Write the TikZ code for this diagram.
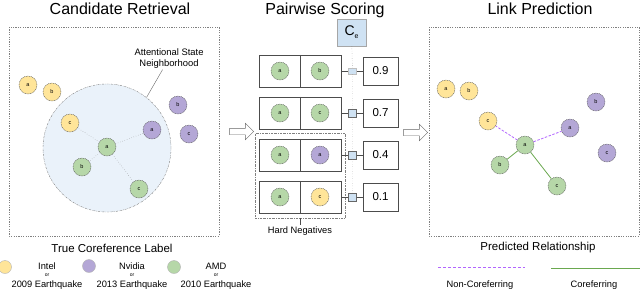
\documentclass[tikz,border=0pt]{standalone}
\usepackage{fontspec}
\setmainfont{Liberation Sans}
\usepackage{tikz}
\usetikzlibrary{arrows.meta, positioning, shapes}
\usepackage{xcolor}
\definecolor{yel}{RGB}{255,229,153}
\definecolor{pur}{RGB}{180,167,214}
\definecolor{grn}{RGB}{182,215,168}
\definecolor{nbhdblue}{RGB}{234,242,250}
\definecolor{ceblue}{RGB}{207,226,243}
\definecolor{noncoref}{RGB}{178,102,255}
\definecolor{coref}{RGB}{106,168,79}

\begin{document}
\begin{tikzpicture}[x=1pt, y=-1pt,
  ment/.style={circle, draw=gray!70!black, dash pattern=on 1pt off 0.7pt, minimum size=18pt, inner sep=0pt, font=\fontsize{5.5}{6}\selectfont},
  keydot/.style={circle, draw=gray!60, minimum size=13pt, inner sep=0pt},
  panel/.style={draw=gray, dash pattern=on 1.2pt off 1.2pt},
  pairbox/.style={draw=black!70, minimum width=82pt, minimum height=32pt},
  scorebox/.style={draw=black!70, minimum width=35pt, minimum height=28pt, font=\fontsize{11.5}{12}\selectfont},
  gate/.style={draw=black!60, fill=ceblue, minimum size=8pt, inner sep=0pt},
  blockarrow/.style={single arrow, draw=black!60, fill=white, minimum height=24pt, minimum width=16pt, inner sep=3pt, single arrow head extend=5pt},
  title/.style={anchor=base, font=\fontsize{16}{18}\selectfont},
  caption/.style={font=\fontsize{11.5}{13}\selectfont},
  keytext/.style={font=\fontsize{9.3}{10}\selectfont, inner sep=1pt}
]
  \useasboundingbox (0,0) rectangle (640,290);

  % Titles
  \node[title] (t1) at (120,14) {Candidate Retrieval};
  \node[title] (t2) at (325,14) {Pairwise Scoring};
  \node[title] (t3) at (540,14) {Link Prediction};

  % Candidate retrieval
  \draw[panel] (9,27) rectangle (219,236);
  \node[circle, draw=gray, dash pattern=on 2pt off 1pt on 0.5pt off 1pt, fill=nbhdblue, minimum size=128pt, inner sep=0pt] (nbhd) at (107,148) {};
  \node[font=\fontsize{9.4}{11}\selectfont, align=center, inner sep=1pt] (attn) at (169,58.5) {Attentional State\\Neighborhood};
  \draw[gray!80!black] (attn) -- (nbhd.52);

  \node[ment, fill=yel] (cya) at (28,85) {a};
  \node[ment, fill=yel] (cyb) at (52,92) {b};
  \node[ment, fill=yel] (cyc) at (70,123) {c};
  \node[ment, fill=pur] (cpa) at (152,130) {a};
  \node[ment, fill=pur] (cpb) at (178,105) {b};
  \node[ment, fill=pur] (cpc) at (189,134) {c};
  \node[ment, fill=grn] (cga) at (107,147) {a};
  \node[ment, fill=grn] (cgb) at (82,167) {b};
  \node[ment, fill=grn] (cgc) at (139,189) {c};

  \draw[gray, dotted] (cga) -- (cyc);
  \draw[gray, dotted] (cga) -- (cpa);
  \draw[gray, dotted] (cga) -- (cgb);
  \draw[gray, dotted] (cga) -- (cgc);

  \node[caption] (lab1) at (112,248) {True Coreference Label};

  % Legend
  \node[keydot, fill=yel] (ky) at (5,267) {};
  \node[keytext] (kya) at (47,266) {Intel};
  \node[keytext, font=\fontsize{5}{5}\selectfont] (kyb) at (47,275) {or};
  \node[keytext] (kyc) at (47,285) {2009 Earthquake};
  \node[keydot, fill=pur] (kp) at (89,266) {};
  \node[keytext] (kpa) at (132,266) {Nvidia};
  \node[keytext, font=\fontsize{5}{5}\selectfont] (kpb) at (132,275) {or};
  \node[keytext] (kpc) at (132,285) {2013 Earthquake};
  \node[keydot, fill=grn] (kg) at (174,267) {};
  \node[keytext] (kga) at (216,266) {AMD};
  \node[keytext, font=\fontsize{5}{5}\selectfont] (kgb) at (216,275) {or};
  \node[keytext] (kgc) at (216,285) {2010 Earthquake};

  % Arrows between stages
  \node[blockarrow] (ar1) at (240,131.5) {};
  \node[blockarrow] (ar2) at (414,132.5) {};

  % Pairwise scoring
  \node[draw=gray, dash pattern=on 2pt off 1pt on 0.5pt off 1pt, minimum width=90pt, minimum height=85pt] (hard) at (300,175.5) {};
  \node[keytext] (hnlab) at (300,231) {Hard Negatives};
  \draw[black!70] (hard.south) -- (hnlab.north);

  \node[draw=gray!70, fill=ceblue, minimum width=29pt, minimum height=27pt, font=\fontsize{14}{14}\selectfont] (ce) at (351.5,32.5) {C\raisebox{-3pt}{\fontsize{7}{7}\selectfont e}};

  \node[pairbox] (p1) at (300,71) {};
  \node[pairbox] (p2) at (300,113) {};
  \node[pairbox] (p3) at (300,155) {};
  \node[pairbox] (p4) at (300,197) {};
  \draw[black!70] (p1.north) -- (p1.south);
  \draw[black!70] (p2.north) -- (p2.south);
  \draw[black!70] (p3.north) -- (p3.south);
  \draw[black!70] (p4.north) -- (p4.south);

  \node[ment, fill=grn] (p1a) at (280,71) {a};
  \node[ment, fill=grn] (p1b) at (320,71) {b};
  \node[ment, fill=grn] (p2a) at (280,113) {a};
  \node[ment, fill=grn] (p2b) at (320,113) {c};
  \node[ment, fill=grn] (p3a) at (280,155) {a};
  \node[ment, fill=pur] (p3b) at (320,155) {a};
  \node[ment, fill=grn] (p4a) at (280,197) {a};
  \node[ment, fill=yel] (p4b) at (320,197) {c};

  \node[gate, draw=gray!50, minimum height=6pt] (g1) at (352.5,71) {};
  \node[gate] (g2) at (352.5,113) {};
  \node[gate] (g3) at (352.5,155) {};
  \node[gate] (g4) at (352.5,197) {};

  \node[scorebox] (s1) at (380.5,71) {0.9};
  \node[scorebox] (s2) at (380.5,113) {0.7};
  \node[scorebox] (s3) at (380.5,155) {0.4};
  \node[scorebox] (s4) at (380.5,197) {0.1};

  \draw[black!70] (p1) -- (g1) -- (s1);
  \draw[black!70] (p2) -- (g2) -- (s2);
  \draw[black!70] (p3) -- (g3) -- (s3);
  \draw[black!70] (p4) -- (g4) -- (s4);
  \draw[gray, dotted] (ce) -- (g1) (g1) -- (g2) (g2) -- (g3) (g3) -- (g4);

  % Link prediction
  \draw[panel] (429,27) rectangle (639,236);
  \node[ment, fill=yel] (lya) at (446,89) {a};
  \node[ment, fill=yel] (lyb) at (469,91) {b};
  \node[ment, fill=yel] (lyc) at (488,121) {c};
  \node[ment, fill=pur] (lpa) at (570,128) {a};
  \node[ment, fill=pur] (lpb) at (596,102) {b};
  \node[ment, fill=pur] (lpc) at (607,153) {c};
  \node[ment, fill=grn] (lga) at (525,145) {a};
  \node[ment, fill=grn] (lgb) at (500,165) {b};
  \node[ment, fill=grn] (lgc) at (557,186) {c};

  \draw[noncoref, line width=0.8pt, dash pattern=on 2.5pt off 1.5pt] (lga) -- (lyc);
  \draw[noncoref, line width=0.8pt, dash pattern=on 2.5pt off 1.5pt] (lga) -- (lpa);
  \draw[coref, line width=0.8pt] (lga) -- (lgb);
  \draw[coref, line width=0.8pt] (lga) -- (lgc);

  \node[caption] (lab3) at (538,248) {Predicted Relationship};

  % Legend
  \coordinate (nk1) at (438,267);
  \coordinate (nk2) at (525,267);
  \coordinate (ck1) at (551,268);
  \coordinate (ck2) at (640,268);
  \draw[noncoref, line width=0.9pt, dash pattern=on 3pt off 2pt] (nk1) -- (nk2);
  \draw[coref, line width=0.9pt] (ck1) -- (ck2);
  \node[keytext] (nklab) at (480,285) {Non-Coreferring};
  \node[keytext] (cklab) at (594,285) {Coreferring};
\end{tikzpicture}
\end{document}
